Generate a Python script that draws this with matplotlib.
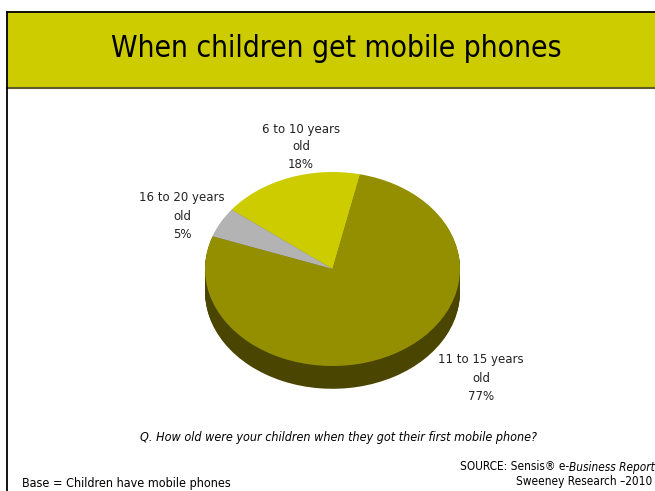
import matplotlib.pyplot as plt
from matplotlib.patches import Rectangle

# survey shares, listed counter-clockwise from the top of the pie
ages = ['6 to 10 years\nold', '16 to 20 years\nold', '11 to 15 years\nold']
shares = [18, 5, 77]
top_colors = ['#CCCC00', '#B3B3B3', '#938F00']
side_colors = ['#8A8A00', '#7A7A7A', '#4A4500']

W, H = 655, 491
fig = plt.figure(figsize=(W / 100, H / 100), dpi=100)
bg = fig.add_axes([0, 0, 1, 1])
bg.set_xlim(0, W)
bg.set_ylim(H, 0)
bg.axis('off')

cond = dict(family='DejaVu Sans', stretch='condensed')

# header band and frame
bg.add_patch(Rectangle((7, 12), W, 76, facecolor='#CCCC00', edgecolor='none'))
bg.plot([7, W], [88, 88], color='#5E5A2A', lw=1.5)
bg.plot([7, 7], [12, H], color='black', lw=1.3)
bg.plot([7, W], [12, 12], color='black', lw=1.3)
bg.text(336, 48, 'When children get mobile phones', ha='center', va='center',
        fontsize=21.5, **cond)

# tilted pie: unit circle squashed into an ellipse by the axes limits
px_unit = 97
depth = 0.235
ax = fig.add_axes([205 / W, 1 - (172 + (2 + depth) * px_unit) / H,
                   255 / W, (2 + depth) * px_unit / H])
steps = 24
for k in range(steps, 0, -1):
    ax.pie(shares, colors=side_colors, startangle=77.5, counterclock=True,
           center=(0, -depth * k / steps), radius=1)
ax.pie(shares, colors=top_colors, startangle=77.5, counterclock=True,
       center=(0, 0), radius=1)
ax.set_aspect('auto')
ax.set_xlim(-1, 1)
ax.set_ylim(-1 - depth, 1)
ax.axis('off')

lbl = dict(ha='center', va='center', fontsize=8.5, linespacing=1.5,
           family='DejaVu Sans', color='#222222')
bg.text(301, 147, f'{ages[0]}\n{shares[0]}%', **lbl)
bg.text(182, 216, f'{ages[1]}\n{shares[1]}%', **lbl)
bg.text(481, 378, f'{ages[2]}\n{shares[2]}%', **lbl)

bg.text(338, 438, 'Q. How old were your children when they got their first mobile phone?',
        ha='center', va='center', fontsize=9, style='italic', **cond)
bg.text(22, 483, 'Base = Children have mobile phones', ha='left', va='center',
        fontsize=9, **cond)
src = bg.text(460, 467, 'SOURCE: Sensis® e-', ha='left', va='center',
              fontsize=8.5, **cond)
bg.annotate('Business Report', xy=(1, 0.5), xycoords=src, ha='left', va='center',
            fontsize=8.5, style='italic', **cond)
bg.text(652, 482, 'Sweeney Research \u20132010', ha='right', va='center',
        fontsize=8.5, **cond)

fig.savefig('out.png', dpi=100)
